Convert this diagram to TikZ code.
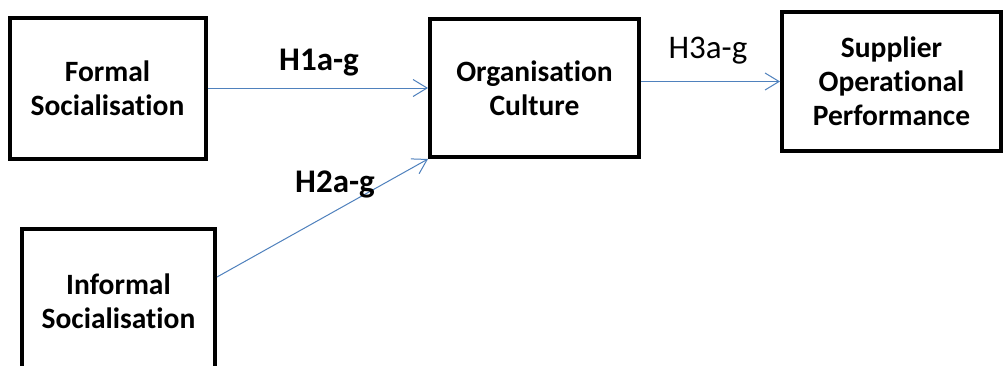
\documentclass[tikz,border=0pt]{standalone}
\usepackage{fontspec}
\setmainfont{Carlito}[Ligatures={NoCommon,NoRare},RawFeature={-calt}]
\usetikzlibrary{arrows.meta}
\definecolor{conn}{RGB}{79,129,189}
\newcommand{\nolig}{\kern0pt }
\tikzset{
  box/.style={draw=black, line width=4pt, fill=white, inner sep=0pt, align=center,
    font=\fontsize{29.5}{34}\selectfont\bfseries},
  link/.style={draw=conn, line width=1pt, -{Straight Barb[length=14pt,width=17pt,line width=1pt]}},
  lab/.style={anchor=base, inner sep=0pt, font=\fontsize{33}{38}\selectfont}
}
\begin{document}
\begin{tikzpicture}[x=1pt,y=-1pt]
\useasboundingbox (0,0) rectangle (1006,365);
\clip (0,0) rectangle (1006,365);
\fill[white] (0,0) rectangle (1006,365);
\node[box, minimum width=196pt, minimum height=141pt] (F) at (107.5,88) {Formal\\Socialisat\nolig ion};
\node[box, minimum width=209pt, minimum height=138pt] (O) at (534.5,88) {Organisat\nolig ion\\Culture};
\node[box, minimum width=219pt, minimum height=139pt] (S) at (891.5,81.5) {Supplier\\Operat\nolig ional\\Performance};
\node[box, minimum width=193pt, minimum height=144pt] (I) at (118.5,301) {Informal\\Socialisat\nolig ion};
\draw[link] (F.east) -- (O.west);
\draw[link] (O.east |- S.west) -- (S.west);
\draw[link] ([yshift=24pt]I.east) -- (O.south west);
\node[lab, font=\fontsize{33}{38}\selectfont\bfseries] (h1) at (319,70) {H1a-g};
\node[lab, font=\fontsize{33}{38}\selectfont\bfseries] (h2) at (335,192) {H2a-g};
\node[lab] (h3) at (708,58) {H3a-g};
\end{tikzpicture}
\end{document}
